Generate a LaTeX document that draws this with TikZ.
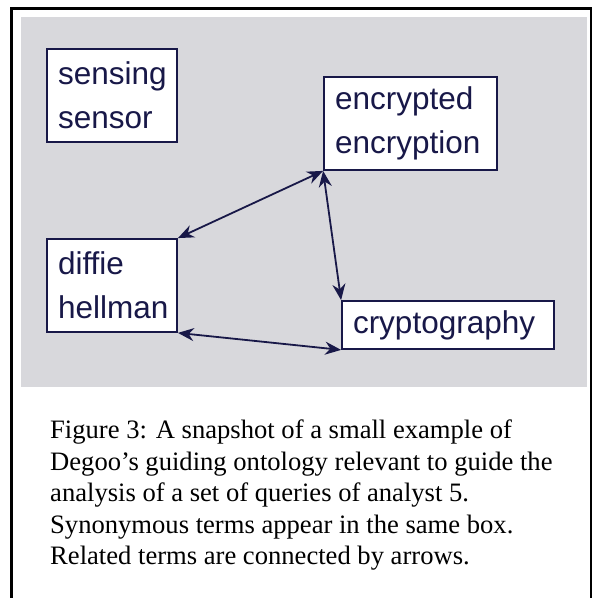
\documentclass[tikz,border=0pt]{standalone}
\usepackage{fontspec}
\setmainfont{Liberation Serif}
\newfontfamily\boxfont{Liberation Sans}
\usetikzlibrary{arrows.meta}
\definecolor{navy}{RGB}{24,24,72}
\definecolor{panel}{RGB}{216,216,220}
\begin{document}
\begin{tikzpicture}[x=1pt,y=1pt,
  termbox/.style={draw=navy, line width=1.8pt, fill=white, rectangle, text=navy,
    font=\boxfont\fontsize{31.5}{44}\selectfont, align=left, inner xsep=11pt, inner ysep=0pt,
    minimum height=93pt},
  rel/.style={navy, line width=1.8pt, {Stealth[length=16pt,width=13pt]}-{Stealth[length=16pt,width=13pt]}}
]
\useasboundingbox (0,0) rectangle (594,598);
% outer frame
\draw[line width=2.5pt] (11.5,-5) -- (11.5,589.5) -- (591,589.5) -- (591,-5);
% grey panel
\fill[panel] (21,211) rectangle (587,581);
% term boxes
\node[termbox, text width=108pt] (sens) at (112,502.5) {sensing\\sensor};
\node[termbox, text width=151pt] (enc) at (410.5,474.5) {encrypted\\encryption};
\node[termbox, text width=108pt] (dh) at (112,312.5) {diffie\\hellman};
\node[termbox, text width=190pt, minimum height=48pt] (cry) at (448,273) {cryptography};
% relations
\draw[rel] (dh.north east) -- (enc.south west);
\draw[rel] (enc.south west) -- (cry.north west);
\draw[rel] (dh.south east) -- (cry.south west);
% caption
\node[anchor=north west, inner sep=0pt, align=left,
      font=\fontsize{26.6}{31.5}\selectfont] (cap) at (50,178.3)
  {Figure 3: A snapshot of a small example of\\
   Degoo’s guiding ontology relevant to guide the\\
   analysis of a set of queries of analyst 5.\\
   Synonymous terms appear in the same box.\\
   Related terms are connected by arrows.};
\end{tikzpicture}
\end{document}
